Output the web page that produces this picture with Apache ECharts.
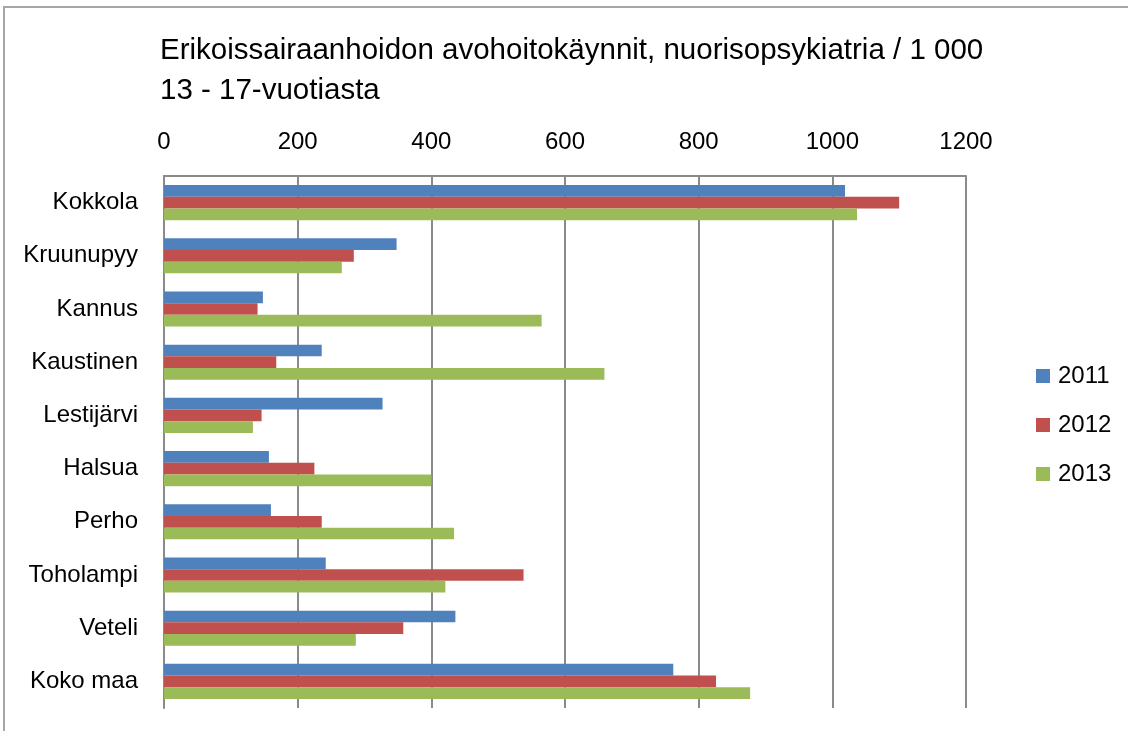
<!DOCTYPE html>
<html>
<head>
<meta charset="utf-8">
<script src="https://cdn.jsdelivr.net/npm/echarts@6/dist/echarts.min.js"></script>
<style>
html,body{margin:0;padding:0;background:#fff;}
#main{width:1128px;height:731px;}
</style>
</head>
<body>
<div id="main"></div>
<script>
var categories = ["Kokkola","Kruunupyy","Kannus","Kaustinen","Lestijärvi","Halsua","Perho","Toholampi","Veteli","Koko maa"];
var seriesNames = ["2011","2012","2013"];
var values2011 = [1019, 348, 148, 236, 327, 157, 160, 242, 436, 762];
var values2012 = [1100, 284, 140, 168, 146, 225, 236, 538, 358, 826];
var values2013 = [1037, 266, 565, 659, 133, 400, 434, 421, 287, 877];
var xTicks = [0, 200, 400, 600, 800, 1000, 1200];

var FONT = "Liberation Sans";
var GRID = "#8a8a8a";
var colors = ["#4F81BD", "#C0504D", "#9BBB59"];
var allValues = [values2011, values2012, values2013];

var chart = echarts.init(document.getElementById('main'));
chart.setOption({
  animation: false,
  textStyle: { fontFamily: FONT },
  title: {
    text: "Erikoissairaanhoidon avohoitokäynnit, nuorisopsykiatria / 1 000\n13 - 17-vuotiasta",
    left: 160, top: 31, padding: 0,
    textStyle: { fontFamily: FONT, fontSize: 29.5, fontWeight: "normal", color: "#000", lineHeight: 40 }
  },
  graphic: [{
    type: "rect", silent: true,
    shape: { x: 4, y: 7, width: 1300, height: 900 },
    style: { fill: null, stroke: "#a6a6a6", lineWidth: 2 }
  }],
  legend: {
    orient: "vertical", left: 1036, top: 364, padding: 0,
    itemWidth: 14, itemHeight: 14, itemGap: 25,
    icon: "rect",
    data: seriesNames,
    textStyle: { fontFamily: FONT, fontSize: 24, color: "#000", padding: [0,0,0,3] }
  },
  grid: { left: 164, right: 162, top: 176, bottom: 23, containLabel: false },
  xAxis: {
    type: "value", position: "top",
    min: xTicks[0], max: xTicks[xTicks.length-1], interval: xTicks[1]-xTicks[0],
    axisLine: { show: true, lineStyle: { color: GRID, width: 2 } },
    axisTick: { show: false },
    splitLine: { show: true, lineStyle: { color: GRID, width: 2 } },
    axisLabel: { fontFamily: FONT, fontSize: 24, color: "#000", margin: 22,
      formatter: function (v) { return String(v); } }
  },
  yAxis: {
    type: "category", inverse: true, data: categories,
    axisLine: { show: true, lineStyle: { color: GRID, width: 2 } },
    axisTick: { show: false },
    axisLabel: { fontFamily: FONT, fontSize: 24, color: "#000", margin: 26 }
  },
  series: seriesNames.map(function (n, i) {
    return {
      name: n, type: "bar", data: allValues[i],
      barGap: "0%", barCategoryGap: "34%",
      itemStyle: { color: colors[i] }
    };
  })
});
</script>
</body>
</html>
